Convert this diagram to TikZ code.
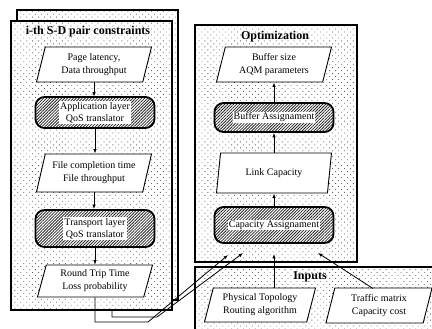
\documentclass[tikz,border=0pt]{standalone}
\usepackage{fontspec}
\setmainfont{Liberation Serif}
\usetikzlibrary{shapes.geometric,patterns.meta,arrows.meta}
\begin{document}
\begin{tikzpicture}[x=1pt,y=-1pt,
  dbox/.style={draw=black, line width=1.3pt, preaction={fill=white}, pattern={Dots[distance=4.2pt,radius=0.6pt,angle=45]}, pattern color=black!60},
  para/.style={trapezium, trapezium left angle=70, trapezium right angle=110, trapezium stretches body=true, draw, line width=0.9pt, fill=white, align=center, font=\fontsize{10}{13}\selectfont, inner sep=1pt, minimum height=35pt, minimum width=115pt},
  hbox/.style={rounded corners=9pt, draw, line width=1.8pt, preaction={fill=white}, pattern={Lines[angle=45,distance=2.1pt,line width=0.8pt]}, pattern color=black!85, minimum width=119pt, minimum height=31pt},
  hlabel/.style={fill=white, inner sep=1pt, align=center, font=\fontsize{10}{12}\selectfont},
  ttl/.style={font=\fontsize{12}{14}\selectfont\bfseries, inner sep=1pt},
  arr/.style={-{Latex[length=4.5pt,width=3.5pt]}, line width=0.8pt}
]
\useasboundingbox (0,0) rectangle (432,329);
\clip (0,0) rectangle (432,329);
\fill[white] (0,0) rectangle (432,329);
% containers
\draw[dbox] (17,10) rectangle (178,300);
\draw[dbox] (11,21) rectangle (172,310);
\draw[dbox] (195,25) rectangle (357,262);
\draw[dbox] (195,267) rectangle (445,345);
% titles
\node[ttl] (t1) at (88,32) {i-th S-D pair constraints};
\node[ttl] (t2) at (275,37) {Optimization};
\node[ttl] (t3) at (310,277) {Inputs};
% left column
\node[para] (pl) at (94,64.5) {Page latency,\\Data throughput};
\node[hbox] (app) at (95,112.5) {};
\node[hlabel] (appt) at (app) {Application layer\\QoS translator};
\node[para, minimum height=38pt] (fct) at (94,173) {File completion time\\File throughput};
\node[hbox, minimum height=37pt] (tl) at (95,228.5) {};
\node[hlabel] (tlt) at (tl) {Transport layer\\QoS translator};
\node[para, minimum height=32pt] (rtt) at (95,281) {Round Trip Time\\Loss probability};
% right column
\node[para] (bs) at (274,64.5) {Buffer size\\AQM parameters};
\node[hbox, minimum height=29pt] (ba) at (274,117.5) {};
\node[hlabel] (bat) at (ba) {Buffer Assignament};
\node[para, minimum height=40pt] (lc) at (274,173) {Link Capacity};
\node[hbox, minimum height=36pt] (ca) at (274,225) {};
\node[hlabel] (cat) at (ca) {Capacity Assignament};
% inputs
\node[para, minimum height=34pt, minimum width=111pt] (pt) at (260,305) {Physical Topology\\Routing algorithm};
\node[para, minimum height=35pt, minimum width=106pt] (tm) at (379,305.5) {Traffic matrix\\Capacity cost};
% vertical chain arrows
\draw[arr] (pl.south) -- (pl.south |- app.north);
\draw[arr] (app.south) -- (app.south |- fct.north);
\draw[arr] (fct.south) -- (fct.south |- tl.north);
\draw[arr] (tl.south) -- (tl.south |- rtt.north);
\draw[arr] (ba.north) -- (ba.north |- bs.south);
\draw[arr] (lc.south |- ca.north) -- (lc.south);
\draw[arr] (ba.south |- lc.north) -- (ba.south);
% arrows into capacity assignment
\coordinate (e1) at (228,255);
\coordinate (e2) at (243,253);
\coordinate (e3) at (274,254);
\coordinate (e4) at (318,253);
\coordinate (k1) at (148,322);
\coordinate (s2) at (112,310);
\coordinate (k2) at (157,317);
\coordinate (s4) at (373,288.5);
\draw[arr] (rtt.south) |- (k1) -- (e1);
\draw[arr] (s2) |- (k2) -- (e2);
\draw[arr] (pt.north -| e3) -- (e3);
\draw[arr] (s4) -- (e4);
\end{tikzpicture}
\end{document}
